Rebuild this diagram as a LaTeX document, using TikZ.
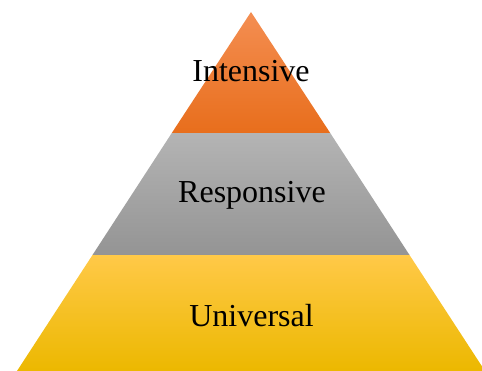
\documentclass[tikz,border=0pt]{standalone}
\usepackage{fontspec}
\setmainfont{Liberation Serif}
\begin{document}
\begin{tikzpicture}[x=1pt,y=1pt,
  lbl/.style={anchor=base,inner sep=0pt,font=\fontsize{32}{37}\selectfont,text=black}]
\definecolor{orT}{RGB}{244,142,82}
\definecolor{orB}{RGB}{232,110,28}
\definecolor{grT}{RGB}{180,180,180}
\definecolor{grB}{RGB}{148,148,148}
\definecolor{yeT}{RGB}{255,201,72}
\definecolor{yeM}{RGB}{255,193,0}
\definecolor{yeB}{RGB}{236,184,0}
\useasboundingbox (0,0) rectangle (482,371);
\clip (0,0) rectangle (482,371);
\coordinate (apex) at (251,359);
\shade[top color=yeT, middle color=yeM, bottom color=yeB] (17,0) -- (485,0) -- (409.5,116) -- (92.5,116) -- cycle;
\shade[top color=grT, bottom color=grB] (92.5,116) -- (409.5,116) -- (330.2,238) -- (171.8,238) -- cycle;
\shade[top color=orT, bottom color=orB] (171.8,238) -- (330.2,238) -- (apex) -- cycle;
\node[lbl] (int) at (251,289) {Intensive};
\node[lbl] (res) at (252,168) {Responsive};
\node[lbl] (uni) at (251.5,44) {Universal};
\end{tikzpicture}
\end{document}
